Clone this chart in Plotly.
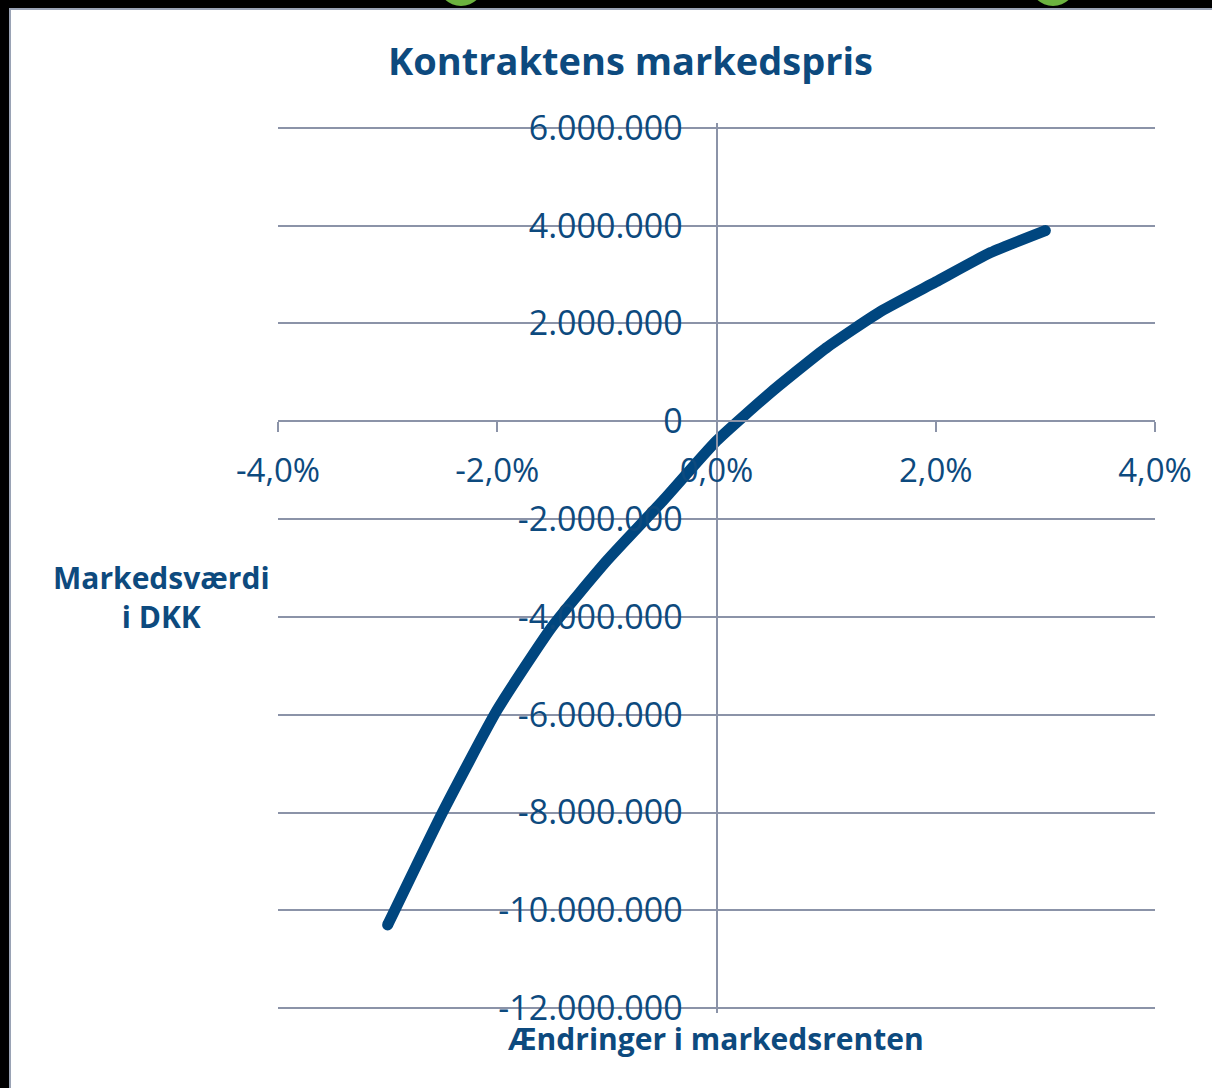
import plotly.graph_objects as go

# ---- data ----
rate_change = [-0.030, -0.025, -0.020, -0.015, -0.010, -0.005, 0.000,
               0.005, 0.010, 0.015, 0.020, 0.025, 0.030]
market_value = [-10_300_000, -8_000_000, -5_900_000, -4_200_000, -2_850_000,
                -1_650_000, -400_000, 600_000, 1_500_000, 2_250_000,
                2_850_000, 3_450_000, 3_900_000]

x_tickvals = [-0.04, -0.02, 0.0, 0.02, 0.04]
x_ticktext = ["-4,0%", "-2,0%", "0,0%", "2,0%", "4,0%"]
y_tickvals = [6_000_000, 4_000_000, 2_000_000, 0, -2_000_000, -4_000_000,
              -6_000_000, -8_000_000, -10_000_000, -12_000_000]
y_ticktext = ["6.000.000", "4.000.000", "2.000.000", "0", "-2.000.000",
              "-4.000.000", "-6.000.000", "-8.000.000", "-10.000.000",
              "-12.000.000"]

title_text = "Kontraktens markedspris"
y_title = "Markedsværdi<br>i DKK"
x_title = "Ændringer i markedsrenten"

# ---- styling ----
W, H = 1212, 1088
L, R, T, B = 278, 1155, 123, 1013
TXT = "#0d4a7e"
LINE = "#00467f"
GRID = "#8b93a8"
FONT = "Open Sans"

X_RANGE = [-0.04, 0.04]
Y_RANGE = [-12_100_000, 6_100_000]


def px(xp):
    return (xp - L) / (R - L)


def py(yp):
    return (B - yp) / (B - T)


fig = go.Figure()
fig.add_trace(go.Scatter(x=rate_change, y=market_value, mode="lines",
                         line=dict(color=LINE, width=11, shape="spline",
                                   smoothing=0.5),
                         hoverinfo="skip", showlegend=False))
fig.add_trace(go.Scatter(x=[rate_change[0], rate_change[-1]],
                         y=[market_value[0], market_value[-1]],
                         mode="markers",
                         marker=dict(color=LINE, size=11, line=dict(width=0)),
                         hoverinfo="skip", showlegend=False))

x_axis_pos = (0 - Y_RANGE[0]) / (Y_RANGE[1] - Y_RANGE[0])
y_axis_pos = (0 - X_RANGE[0]) / (X_RANGE[1] - X_RANGE[0])

fig.update_layout(
    width=W, height=H,
    margin=dict(l=L, r=W - R, t=T, b=H - B, pad=0),
    paper_bgcolor="#000000",
    plot_bgcolor="rgba(0,0,0,0)",
    showlegend=False,
    font=dict(family=FONT, color=TXT),
    xaxis=dict(range=X_RANGE, anchor="free", position=x_axis_pos,
               showgrid=False, zeroline=False,
               showline=True, linecolor=GRID, linewidth=2,
               ticks="outside", ticklen=10, tickcolor=GRID, tickwidth=2,
               tickvals=x_tickvals, ticktext=x_ticktext,
               ticklabelstandoff=10,
               tickfont=dict(size=33, color=TXT, family=FONT)),
    yaxis=dict(range=Y_RANGE, anchor="free", position=y_axis_pos,
               showgrid=True, gridcolor=GRID, gridwidth=2,
               zeroline=False,
               showline=True, linecolor=GRID, linewidth=2,
               ticks="outside", ticklen=9, tickcolor=GRID, tickwidth=2,
               tickvals=y_tickvals, ticktext=y_ticktext,
               ticklabelstandoff=17,
               tickfont=dict(size=34, color=TXT, family=FONT)),
)

# white slide background with thin border, green arcs peeking at the top
fig.add_shape(type="rect", xref="paper", yref="paper", layer="below",
              x0=px(10), x1=px(1214), y0=py(1090), y1=py(9),
              fillcolor="#ffffff", line=dict(color="#9aa3b5", width=2))
for cx in (461, 1053):
    fig.add_shape(type="circle", xref="paper", yref="paper", layer="below",
                  x0=px(cx - 23), x1=px(cx + 23), y0=py(6), y1=py(-40),
                  fillcolor="#6cb33f", line=dict(width=0))

fig.add_annotation(text=f"<b>{title_text}</b>", xref="paper", yref="paper",
                   x=px(630), y=py(60), showarrow=False,
                   xanchor="center", yanchor="middle",
                   font=dict(size=38, color=TXT, family=FONT))
fig.add_annotation(text=f"<b>{y_title}</b>", xref="paper", yref="paper",
                   x=px(161), y=py(597), showarrow=False,
                   xanchor="center", yanchor="middle", align="center",
                   font=dict(size=30, color=TXT, family=FONT))
fig.add_annotation(text=f"<b>{x_title}</b>", xref="paper", yref="paper",
                   x=px(716), y=py(1038), showarrow=False,
                   xanchor="center", yanchor="middle",
                   font=dict(size=30, color=TXT, family=FONT))

fig.write_html("out.html",
               config={"displayModeBar": False},
               post_script="document.body.style.margin='0';"
                           "document.body.style.overflow='hidden';")
